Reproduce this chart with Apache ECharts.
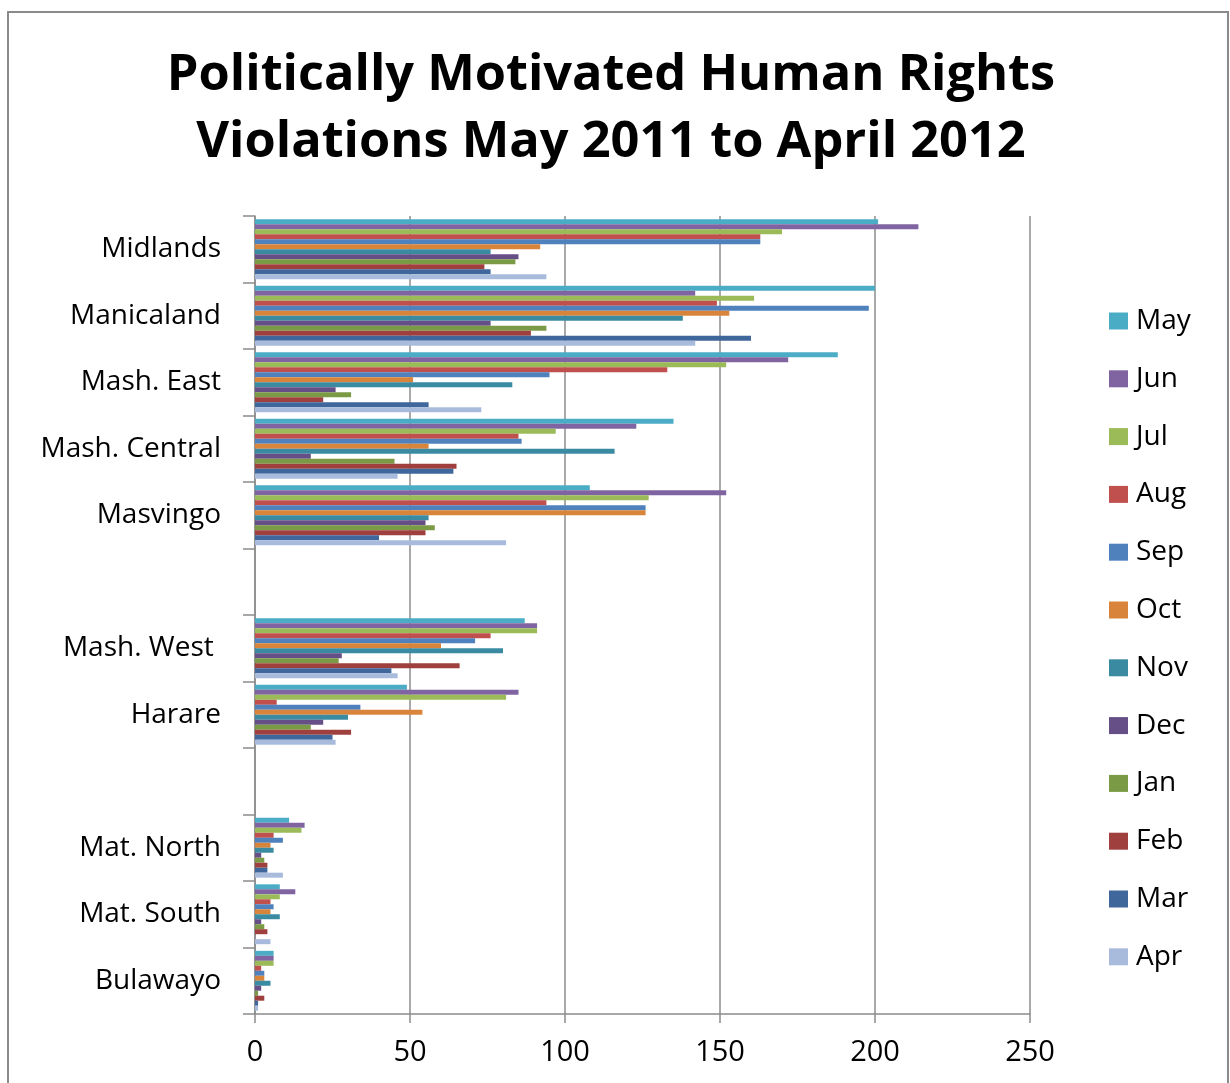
<!DOCTYPE html>
<html>
<head>
<meta charset="utf-8">
<script src="https://cdn.jsdelivr.net/npm/echarts@6/dist/echarts.min.js"></script>
<style>
  html, body { margin: 0; padding: 0; background: #fff; }
  #chart { width: 1230px; height: 1083px; }
</style>
</head>
<body>
<div id="chart"></div>
<script>
// Categories, top to bottom (two blank rows as in the original)
const categories = ['Midlands', 'Manicaland', 'Mash. East', 'Mash. Central', 'Masvingo', ' ',
                    'Mash. West ', 'Harare', '  ', 'Mat. North', 'Mat. South', 'Bulawayo'];
const xTicks = [0, 50, 100, 150, 200, 250];

const may = [201, 200, 188, 135, 108, null, 87, 49, null, 11, 8, 6];
const jun = [214, 142, 172, 123, 152, null, 91, 85, null, 16, 13, 6];
const jul = [170, 161, 152, 97, 127, null, 91, 81, null, 15, 8, 6];
const aug = [163, 149, 133, 85, 94, null, 76, 7, null, 6, 5, 2];
const sep = [163, 198, 95, 86, 126, null, 71, 34, null, 9, 6, 3];
const oct = [92, 153, 51, 56, 126, null, 60, 54, null, 5, 5, 3];
const nov = [76, 138, 83, 116, 56, null, 80, 30, null, 6, 8, 5];
const dec = [85, 76, 26, 18, 55, null, 28, 22, null, 2, 2, 2];
const jan = [84, 94, 31, 45, 58, null, 27, 18, null, 3, 3, 1];
const feb = [74, 89, 22, 65, 55, null, 66, 31, null, 4, 4, 3];
const mar = [76, 160, 56, 64, 40, null, 44, 25, null, 4, 0, 1];
const apr = [94, 142, 73, 46, 81, null, 46, 26, null, 9, 5, 1];

const monthNames = ['May', 'Jun', 'Jul', 'Aug', 'Sep', 'Oct', 'Nov', 'Dec', 'Jan', 'Feb', 'Mar', 'Apr'];
const monthValues = [may, jun, jul, aug, sep, oct, nov, dec, jan, feb, mar, apr];
const monthColors = ['#4BACC6', '#8064A2', '#9BBB59', '#C0504D', '#4F81BD', '#D9843B',
                     '#3A8BA2', '#664E86', '#7B9A45', '#A0403E', '#3F679B', '#A9BBDD'];

const FONT = '"Open Sans", Lato, sans-serif';
const chart = echarts.init(document.getElementById('chart'), null, { renderer: 'canvas' });

chart.setOption({
  backgroundColor: '#ffffff',
  animation: false,
  textStyle: { fontFamily: FONT },
  title: {
    text: 'Politically Motivated Human Rights\nViolations May 2011 to April 2012',
    left: 611,
    textAlign: 'center',
    top: 42,
    padding: 0,
    textStyle: { fontFamily: FONT, fontSize: 50.5, fontWeight: 'bold', color: '#000', lineHeight: 67 }
  },
  graphic: [{
    type: 'rect',
    silent: true,
    shape: { x: 8, y: 12, width: 1220, height: 1100 },
    style: { fill: 'none', stroke: '#8a8a8a', lineWidth: 2 }
  }],
  legend: {
    orient: 'vertical',
    left: 1109,
    top: 307,
    padding: 0,
    itemWidth: 19,
    itemHeight: 17,
    itemGap: 29.8,
    icon: 'rect',
    textStyle: { fontFamily: FONT, fontSize: 28, lineHeight: 28, color: '#000', padding: [0, 0, 0, 3] },
    data: monthNames
  },
  grid: { left: 255, right: 200, top: 216, bottom: 69, containLabel: false },
  xAxis: {
    type: 'value',
    min: xTicks[0],
    max: xTicks[xTicks.length - 1],
    interval: 50,
    axisLine: { show: true, lineStyle: { color: '#8c8c8c', width: 1.5 } },
    axisTick: { show: true, length: 9, lineStyle: { color: '#8c8c8c', width: 1.5 } },
    splitLine: { show: true, lineStyle: { color: '#8c8c8c', width: 1.5 } },
    axisLabel: { fontFamily: FONT, fontSize: 29, color: '#000', margin: 24 }
  },
  yAxis: {
    type: 'category',
    inverse: true,
    data: categories,
    axisLine: { show: true, lineStyle: { color: '#8c8c8c', width: 1.5 } },
    axisTick: { show: true, length: 12, lineStyle: { color: '#8c8c8c', width: 1.5 } },
    splitLine: { show: false },
    axisLabel: { fontFamily: FONT, fontSize: 28, color: '#000', margin: 34 }
  },
  series: monthNames.map((name, i) => ({
    name: name,
    type: 'bar',
    data: monthValues[i],
    barGap: '0%',
    barCategoryGap: '10%',
    itemStyle: { color: monthColors[i] }
  }))
});
</script>
</body>
</html>
